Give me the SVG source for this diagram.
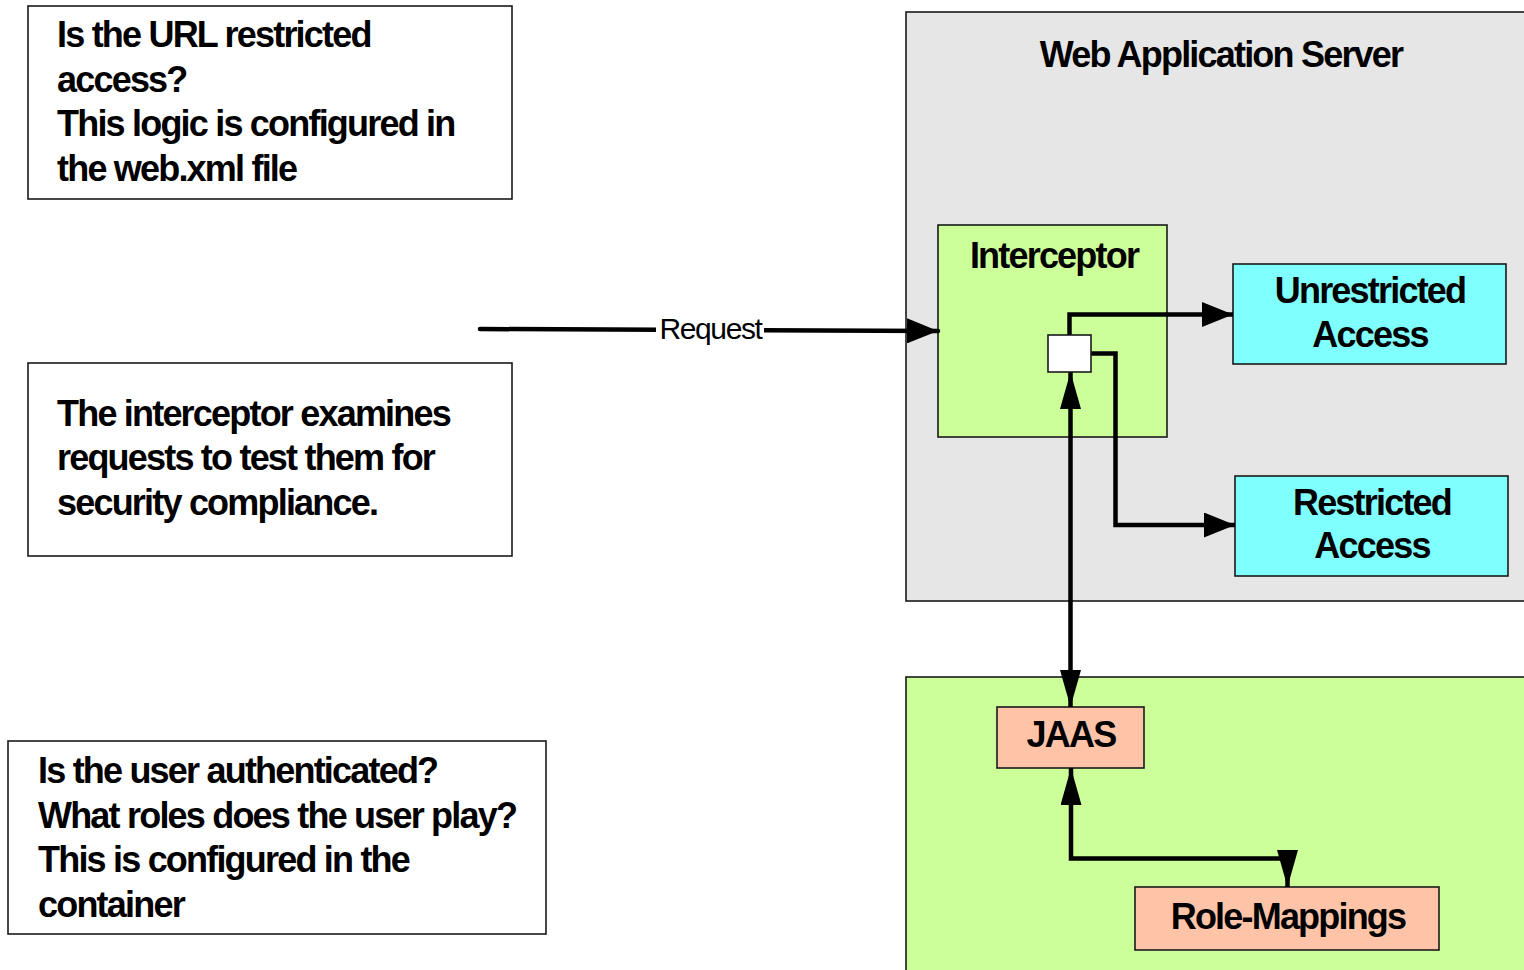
<svg xmlns="http://www.w3.org/2000/svg" width="1524" height="970" viewBox="0 0 1524 970">
<style>
.box{stroke:#1a1a1a;stroke-width:1.6}
.t{font-family:"Liberation Sans",Arial,sans-serif;font-weight:bold;font-size:36px;letter-spacing:-1.8px;fill:#000}
.c{text-anchor:middle}
.lbl{font-family:"Liberation Sans",Arial,sans-serif;font-size:30px;letter-spacing:-1.4px;fill:#000;text-anchor:middle}
.ln{fill:none;stroke:#000;stroke-width:4.5;stroke-linejoin:miter}
</style>
<defs>
<marker id="ah" markerUnits="userSpaceOnUse" markerWidth="31" markerHeight="25" viewBox="0 0 31 25" refX="31" refY="12.5" orient="auto-start-reverse"><path d="M0,0 L31,12.5 L0,25 Z" fill="#000"/></marker>
<marker id="av" markerUnits="userSpaceOnUse" markerWidth="37" markerHeight="21" viewBox="0 0 37 21" refX="37" refY="10.5" orient="auto-start-reverse"><path d="M0,0 L37,10.5 L0,21 Z" fill="#000"/></marker>
</defs>
<rect width="1524" height="970" fill="#fff"/>
<g id="web-app-server">
<rect class="box" x="906" y="12" width="630" height="589" fill="#e6e6e6"/>
<text class="t c" x="1221" y="67">Web Application Server</text>
</g>
<g id="container">
<rect class="box" x="906" y="677" width="630" height="310" fill="#ccff99"/>
</g>
<g id="note-url">
<rect class="box" x="28" y="6" width="484" height="193" fill="#fff"/>
<text class="t" x="57" y="47">Is the URL restricted</text>
<text class="t" x="57" y="91.7">access?</text>
<text class="t" x="57" y="136.4">This logic is configured in</text>
<text class="t" x="57" y="181">the web.xml file</text>
</g>
<g id="note-interceptor">
<rect class="box" x="28" y="363" width="484" height="193" fill="#fff"/>
<text class="t" x="57" y="425.5">The interceptor examines</text>
<text class="t" x="57" y="470">requests to test them for</text>
<text class="t" x="57" y="514.5">security compliance.</text>
</g>
<g id="note-user">
<rect class="box" x="8" y="741" width="538" height="193" fill="#fff"/>
<text class="t" x="38" y="783">Is the user authenticated?</text>
<text class="t" x="38" y="827.7">What roles does the user play?</text>
<text class="t" x="38" y="872.4">This is configured in the</text>
<text class="t" x="38" y="917">container</text>
</g>
<g id="interceptor">
<rect class="box" x="938" y="225" width="229" height="212" fill="#ccff99"/>
<text class="t c" x="1054" y="268">Interceptor</text>
</g>
<g id="unrestricted">
<rect class="box" x="1233" y="264" width="273" height="100" fill="#80ffff"/>
<text class="t c" x="1370" y="303">Unrestricted</text>
<text class="t c" x="1370" y="347">Access</text>
</g>
<g id="restricted">
<rect class="box" x="1235" y="476" width="273" height="100" fill="#80ffff"/>
<text class="t c" x="1372" y="515">Restricted</text>
<text class="t c" x="1372" y="558">Access</text>
</g>
<g id="jaas">
<rect class="box" x="997" y="707" width="147" height="61" fill="#ffc4a8"/>
<text class="t c" x="1071" y="747">JAAS</text>
</g>
<g id="role-mappings">
<rect class="box" x="1135" y="887" width="304" height="63" fill="#ffc4a8"/>
<text class="t c" x="1288" y="929">Role-Mappings</text>
</g>
<g id="connectors">
<path class="ln" d="M480,329 L938,331" stroke-linecap="round" marker-end="url(#ah)"/>
<rect x="656" y="312" width="108" height="36" fill="#fff"/>
<text class="lbl" x="710.5" y="339">Request</text>
<path class="ln" d="M1069.5,335 L1069.5,314.5 L1233,314.5" marker-end="url(#ah)"/>
<path class="ln" d="M1091,353.5 L1115.5,353.5 L1115.5,525 L1235,525" marker-end="url(#ah)"/>
<path class="ln" d="M1070.5,372 L1070.5,707" marker-start="url(#av)" marker-end="url(#av)"/>
<path class="ln" d="M1071,768 L1071,858.5 L1287.5,858.5 L1287.5,887" marker-start="url(#av)" marker-end="url(#av)"/>
</g>
<g id="switch">
<rect class="box" x="1048" y="335" width="43" height="37" fill="#fff"/>
</g>
</svg>
